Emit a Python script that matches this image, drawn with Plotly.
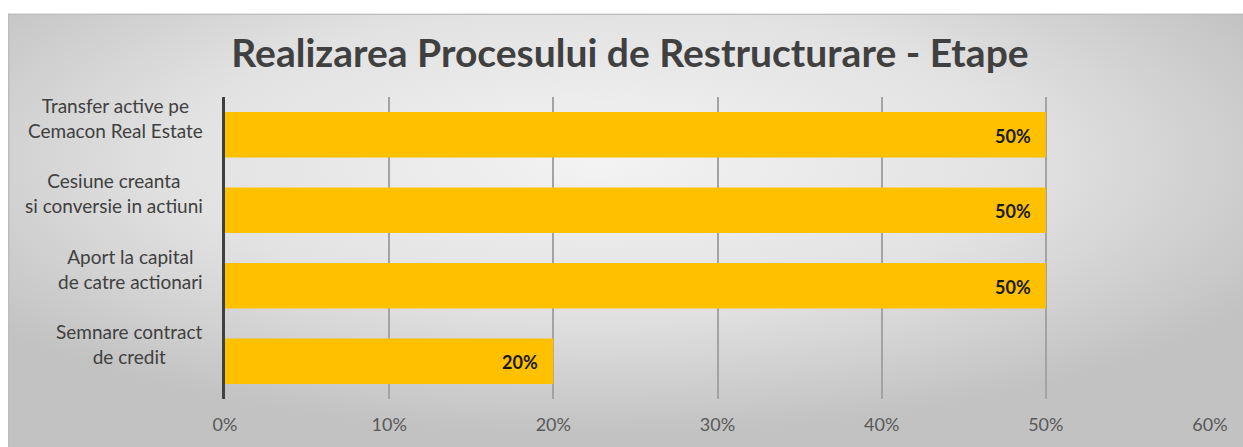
import base64
import plotly.graph_objects as go

# ---- data ----
categories = [
    "Transfer active pe<br>Cemacon Real Estate",
    "Cesiune creanta<br>si conversie in actiuni",
    "Aport la capital<br>de catre actionari",
    "Semnare contract<br>de credit",
]
values = [0.50, 0.50, 0.50, 0.20]
title_text = "Realizarea Procesului de Restructurare - Etape"
x_ticks = [0, 0.1, 0.2, 0.3, 0.4, 0.5, 0.6]

W, H = 1243, 447
ML, MT = 225, 97
PR, PB = 1210, 408
MR, MB = W - PR, H - PB
PW, PH = PR - ML, PB - MT

FONT = "Lato"

# chart-area background: radial grey gradient with thin border (svg data uri)
bx0, by0 = 8, 11
bw, bh = W - bx0, H - by0 + 20
svg = f'''<svg xmlns="http://www.w3.org/2000/svg" width="{bw}" height="{bh}" viewBox="0 0 {bw} {bh}" preserveAspectRatio="none">
<defs><radialGradient id="g" cx="48%" cy="33%" r="62%">
<stop offset="0" stop-color="#f3f3f3"/><stop offset="0.55" stop-color="#e2e2e2"/><stop offset="1" stop-color="#c2c2c2"/>
</radialGradient></defs>
<rect x="0" y="0" width="{bw}" height="{bh}" fill="url(#g)"/>
<line x1="0" y1="0.75" x2="{bw}" y2="0.75" stroke="#bdbdbd" stroke-width="1.5"/>
<line x1="0.75" y1="0" x2="0.75" y2="{bh}" stroke="#bdbdbd" stroke-width="1.5"/>
</svg>'''
uri = "data:image/svg+xml;base64," + base64.b64encode(svg.encode()).decode()

fig = go.Figure()
fig.add_trace(go.Bar(
    x=values, y=categories, orientation="h",
    marker=dict(color="#FFC000", line=dict(width=0)),
    hoverinfo="skip",
))

# category labels (centered multiline, right-anchored block)
for c in categories:
    fig.add_annotation(
        x=-20 / PW, xref="paper", y=c, yref="y", text=c,
        xanchor="right", yanchor="middle", align="center", showarrow=False,
        yshift=17, font=dict(family=FONT, size=19, color="#404040"),
    )

# data labels
for c, v in zip(categories, values):
    fig.add_annotation(
        x=v, xref="x", y=c, yref="y", text=f"<b>{v:.0%}</b>",
        xanchor="right", yanchor="middle", showarrow=False, xshift=-13, yshift=-1,
        font=dict(family=FONT, size=18, color="#1a1a1a"),
    )

fig.add_layout_image(dict(
    source=uri, xref="paper", yref="paper",
    x=(bx0 - ML) / PW, y=(PB - by0) / PH,
    sizex=bw / PW, sizey=bh / PH,
    xanchor="left", yanchor="top", sizing="stretch", layer="below",
))

fig.update_layout(
    width=W, height=H,
    margin=dict(l=ML, r=MR, t=MT, b=MB, pad=0),
    paper_bgcolor="white", plot_bgcolor="rgba(0,0,0,0)",
    showlegend=False, bargap=0.4,
    title=dict(text=f"<b>{title_text}</b>", xref="container", yref="container",
               x=630 / W, y=1 - 53 / H, xanchor="center", yanchor="middle",
               font=dict(family=FONT, size=39, color="#404040")),
    xaxis=dict(range=[0, 0.6], tickvals=x_ticks, tickformat=".0%",
               showgrid=True, gridcolor="#a3a3a3", gridwidth=1.5,
               zeroline=False, showline=False, ticks="",
               ticklabelstandoff=13,
               tickfont=dict(family=FONT, size=18, color="#595959"), fixedrange=True),
    yaxis=dict(range=[3.5, -0.5], showticklabels=False, showgrid=False,
               zeroline=False, showline=True, linecolor="#404040", linewidth=3,
               ticks="", fixedrange=True),
)

fig.write_html("out.html", config={"displayModeBar": False},
               post_script="document.body.style.margin='0';document.body.style.background='#c6c6c6';")
